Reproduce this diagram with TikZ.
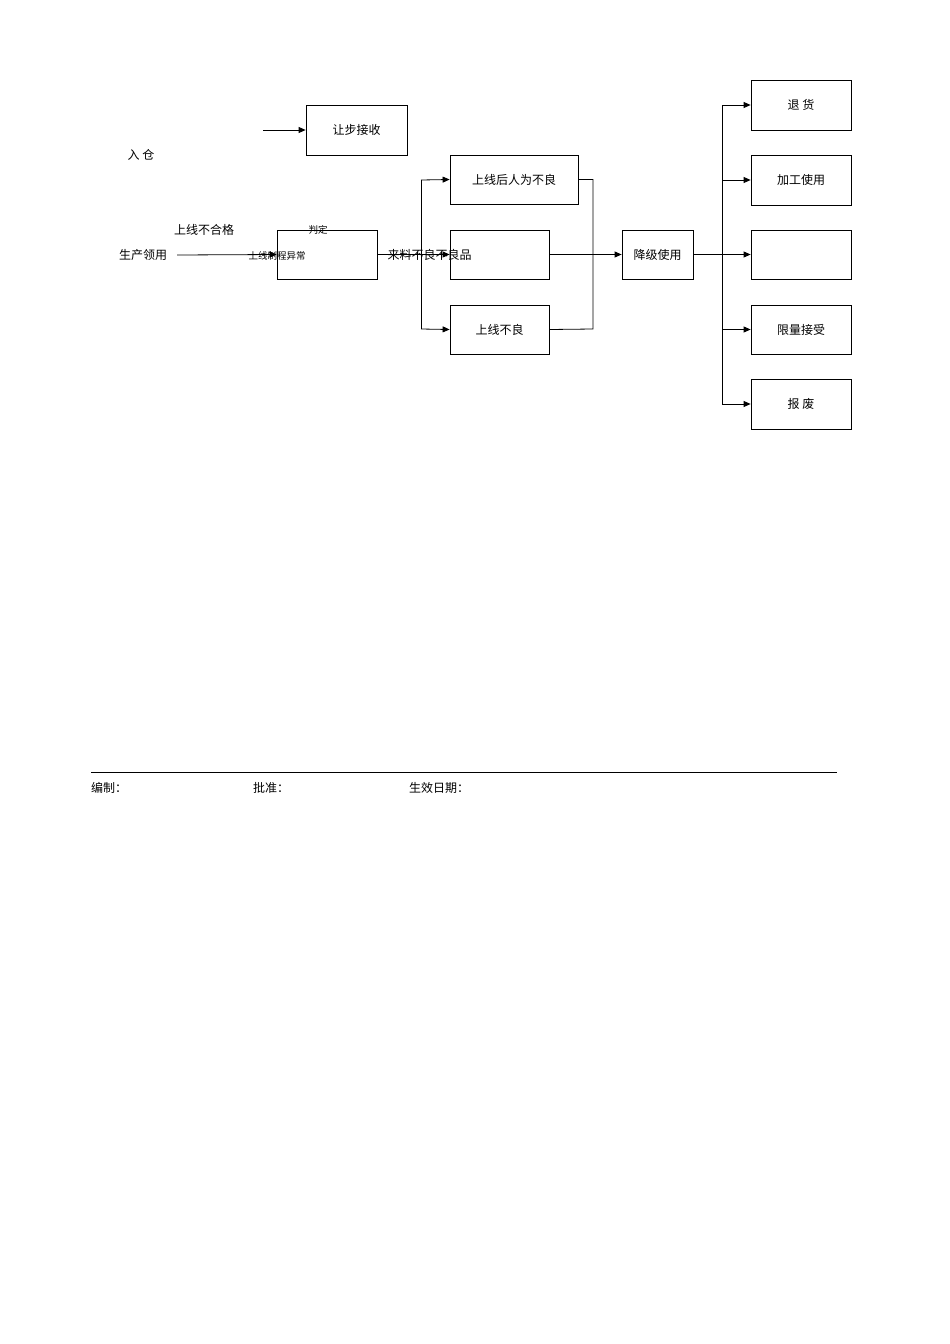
\documentclass[tikz,border=0pt]{standalone}
\usepackage{fontspec}
\setmainfont{Noto Sans CJK SC}
\usetikzlibrary{arrows.meta}
\begin{document}
\begin{tikzpicture}[x=1pt,y=-1pt,
 bx/.style={draw,thick,inner sep=0pt,font=\fontsize{12}{12}\selectfont},
 lbl/.style={font=\fontsize{12}{12}\selectfont,inner sep=0pt},
 sm/.style={font=\fontsize{9.5}{10}\selectfont,inner sep=0pt},
 ar/.style={thick,-{Triangle[length=7pt,width=6pt]}},
 ln/.style={thick}]
\useasboundingbox[fill=white] (0,0) rectangle (950,1344);
\node[bx,minimum width=101pt,minimum height=50pt] (rb) at (356.5,130) {让步接收};
\coordinate (rs) at (263,130);
\draw[ar] (rs) -- (rb.west);
\node[lbl] (rc) at (141,155) {入\ 仓};
\node[bx,minimum width=100pt,minimum height=49pt] (pd) at (327,254.5) {};
\node[lbl] (sc) at (143,255) {生产领用};
\node[lbl] (bhg) at (204,230) {上线不合格};
\node[sm] (jd) at (318,230) {判定};
\node[sm] (zc) at (277,256) {上线制程异常};
\node[bx,minimum width=128pt,minimum height=49pt] (b1) at (514,179.5) {上线后人为不良};
\node[bx,minimum width=99pt,minimum height=49pt] (b2) at (499.5,254.5) {};
\node[bx,minimum width=99pt,minimum height=49pt] (b3) at (499.5,329.5) {上线不良};
\node[lbl] (ll) at (429.5,255) {来料不良不良品};
\node[bx,minimum width=71pt,minimum height=49pt] (jj) at (657.5,254.5) {降级使用};
\node[bx,minimum width=100pt,minimum height=50pt] (r1) at (801,105) {退\ 货};
\node[bx,minimum width=100pt,minimum height=50pt] (r2) at (801,180) {加工使用};
\node[bx,minimum width=100pt,minimum height=49pt] (r3) at (801,254.5) {};
\node[bx,minimum width=100pt,minimum height=49pt] (r4) at (801,329.5) {限量接受};
\node[bx,minimum width=100pt,minimum height=50pt] (r5) at (801,404) {报\ 废};
\draw[ar] (sc.east)++(10,0) -- (pd.west);
\draw[ar] (pd.east) -- (b2.west);
\draw[ln] (421,180) -- (421,329);
\draw[ar] (421,180) -- (b1.west);
\draw[ar] (421,329) -- (b3.west);
\draw[ln] (b1.east) -| (593,329) -- (b3.east);
\draw[ar] (b2.east) -- (jj.west);
\draw[ar] (jj.east) -- (r3.west);
\draw[ln] (722,105) -- (722,404);
\foreach \r/\y in {r1/105,r2/180,r4/329.5,r5/404} \draw[ar] (722,\y) -- (\r.west);
\coordinate (f1) at (91,772); \coordinate (f2) at (837,772);
\draw (f1) -- (f2);
\node[lbl,anchor=west] (bz) at (91,788) {编制：};
\node[lbl,anchor=west] (pz) at (253,788) {批准：};
\node[lbl,anchor=west] (sx) at (409,788) {生效日期：};
\end{tikzpicture}
\end{document}
